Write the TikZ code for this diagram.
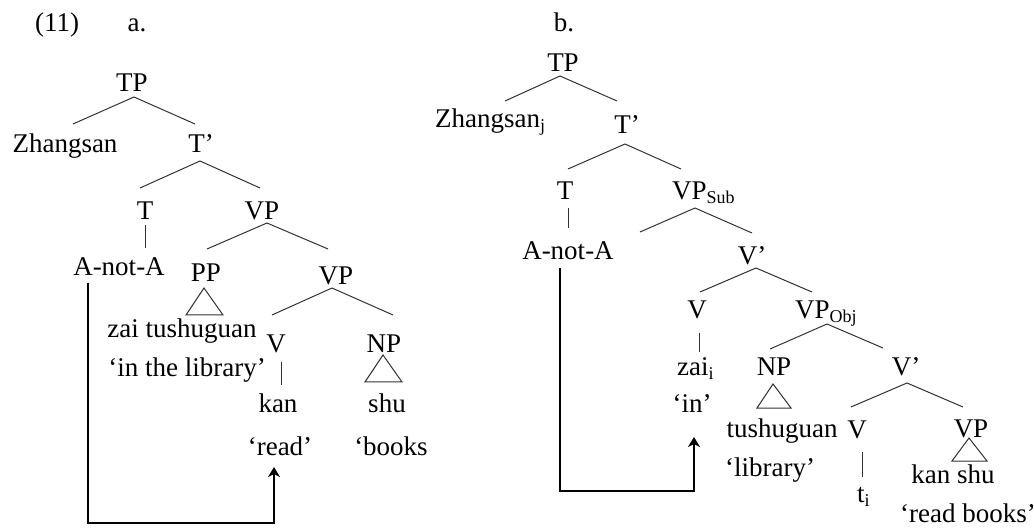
\documentclass[tikz,border=0pt]{standalone}
\usepackage{fontspec}
\setmainfont{Liberation Serif}
\usetikzlibrary{arrows.meta}
% lowered, smaller index (j, i, Sub, Obj)
\newcommand\lowsub[1]{\raisebox{-4pt}{\fontsize{18}{18}\selectfont #1}}

\begin{document}
\begin{tikzpicture}[x=1pt,y=-1pt,
  lbl/.style={anchor=base,inner sep=0pt,font=\fontsize{27}{32}\selectfont},
  lblw/.style={lbl,anchor=base west},
  branch/.style={line width=1pt,draw=black!80},
  tri/.style={branch,line join=miter},
  move/.style={line width=1.8pt,line join=miter,
    -{Stealth[length=10pt,width=12pt,inset=3pt]}}]

\useasboundingbox (0,0) rectangle (1034,529);

% ---------- (11) a. ----------
\node[lbl] (ex)  at (57,32)  {(11)};
\node[lbl] (la)  at (137,32) {a.};
\node[lbl] (TPa) at (132,92) {TP};
\node[lbl] (Zha) at (65,153) {Zhangsan};
\node[lbl] (Tpa) at (201,153) {T’};
\node[lbl] (Ta)  at (145,220) {T};
\node[lbl] (VPa) at (262,220) {VP};
\node[lbl] (ANAa) at (119,276) {A-not-A};
\node[lbl] (PPa) at (206,282) {PP};
\node[lbl] (VPa2) at (336,285) {VP};
\node[lbl] (ztga) at (182,338) {zai tushuguan};
\node[lbl] (Va)  at (276,353) {V};
\node[lbl] (NPa) at (384,353) {NP};
\node[lbl] (itla) at (187,377) {‘in the library’};
\node[lbl] (kana) at (278,412) {kan};
\node[lbl] (shua) at (387,412) {shu};
\node[lbl] (reada) at (280,455) {‘read’};
\node[lbl] (booksa) at (391,455) {‘books};

\draw[branch] ([shift={(8,-29)}]Zha.base) -- ([shift={(2,5)}]TPa.base) -- ([shift={(-6,-29)}]Tpa.base);
\draw[branch] ([shift={(-5,-32)}]Ta.base) -- ([shift={(-1,8)}]Tpa.base) -- ([shift={(-2,-32)}]VPa.base);
\draw[branch] ([shift={(0,5)}]Ta.base) -- ([shift={(26,-28)}]ANAa.base);
\draw[branch] ([shift={(1,-33)}]PPa.base) -- ([shift={(5,3)}]VPa.base) -- ([shift={(-8,-36)}]VPa2.base);
\draw[tri] ([shift={(-2,6)}]PPa.base) -- ([shift={(-20,33)}]PPa.base) -- ([shift={(17,33)}]PPa.base) -- cycle;
\draw[branch] ([shift={(-4,-38)}]Va.base) -- ([shift={(-4,3)}]VPa2.base) -- ([shift={(9,-38)}]NPa.base);
\draw[branch] ([shift={(5,9)}]Va.base) -- ([shift={(3,-27)}]kana.base);
\draw[tri] ([shift={(-1,2)}]NPa.base) -- ([shift={(-19,29)}]NPa.base) -- ([shift={(18,29)}]NPa.base) -- cycle;

% head movement of A-not-A
\draw[move] ([shift={(-31,7)}]ANAa.base) |- ([shift={(-6,68)}]reada.base) -- ([shift={(-6,12)}]reada.base);

% ---------- b. ----------
\node[lbl] (lb)  at (564,32) {b.};
\node[lbl] (TPb) at (563,72) {TP};
\node[lblw] (Zhb) at (435,128) {Zhangsan\lowsub{j}};
\node[lbl] (Tpb) at (627,134) {T’};
\node[lbl] (Tb)  at (565,200) {T};
\node[lblw] (VPsub) at (672,200) {VP\lowsub{Sub}};
\node[lbl] (ANAb) at (568,260) {A-not-A};
\node[lbl] (Vpb) at (752,265) {V’};
\node[lbl] (Vb)  at (697,319) {V};
\node[lblw] (VPobj) at (795,319) {VP\lowsub{Obj}};
\node[lblw] (zaib) at (677,376) {zai\lowsub{i}};
\node[lbl] (NPb) at (774,376) {NP};
\node[lbl] (Vpb2) at (906,376) {V’};
\node[lbl] (inb) at (692,412) {‘in’};
\node[lbl] (tushb) at (782,437) {tushuguan};
\node[lbl] (Vb2) at (857,438) {V};
\node[lbl] (VPb3) at (971,437) {VP};
\node[lbl] (libb) at (770,476) {‘library’};
\node[lbl] (kanshub) at (953,483) {kan shu};
\node[lblw] (tib) at (857,502) {t\lowsub{i}};
\node[lbl] (rbb) at (968,522) {‘read books’};
\coordinate (spec) at (640,232);

\draw[branch] ([shift={(70,-27)}]Zhb.base west) -- ([shift={(-3,4)}]TPb.base) -- ([shift={(-10,-33)}]Tpb.base);
\draw[branch] ([shift={(3,-31)}]Tb.base) -- ([shift={(-2,10)}]Tpb.base) -- ([shift={(9,-31)}]VPsub.base west);
\draw[branch] ([shift={(3,8)}]Tb.base) -- ([shift={(0,-32)}]ANAb.base);
\draw[branch] (spec) -- ([shift={(23,8)}]VPsub.base west) -- ([shift={(0,-32)}]Vpb.base);
\draw[branch] ([shift={(3,-27)}]Vb.base) -- ([shift={(4,3)}]Vpb.base) -- ([shift={(17,-27)}]VPobj.base west);
\draw[branch] ([shift={(2,14)}]Vb.base) -- ([shift={(22,-24)}]zaib.base west);
\draw[branch] ([shift={(-4,-27)}]NPb.base) -- ([shift={(32,5)}]VPobj.base west) -- ([shift={(-23,-28)}]Vpb2.base);
\draw[tri] ([shift={(-1,8)}]NPb.base) -- ([shift={(-17,32)}]NPb.base) -- ([shift={(17,32)}]NPb.base) -- cycle;
\draw[branch] ([shift={(-6,-31)}]Vb2.base) -- ([shift={(1,7)}]Vpb2.base) -- ([shift={(-8,-30)}]VPb3.base);
\draw[branch] ([shift={(5,14)}]Vb2.base) -- ([shift={(5,-25)}]tib.base west);
\draw[tri] ([shift={(-2,1)}]VPb3.base) -- ([shift={(-19,24)}]VPb3.base) -- ([shift={(16,24)}]VPb3.base) -- cycle;

% head movement of A-not-A
\draw[move] ([shift={(-8,8)}]ANAb.base) |- ([shift={(2,79)}]inb.base) -- ([shift={(2,25)}]inb.base);

\end{tikzpicture}
\end{document}
